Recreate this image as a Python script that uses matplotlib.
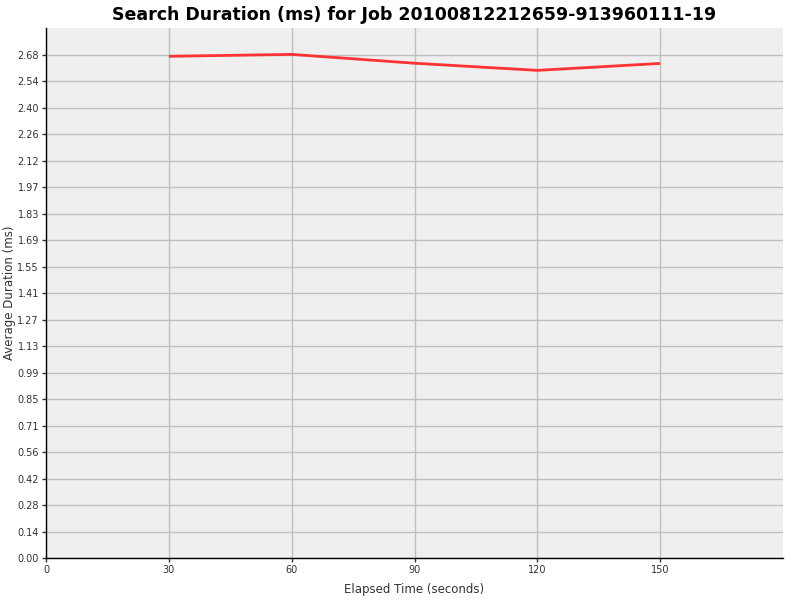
import numpy as np
import matplotlib
matplotlib.use("Agg")
import matplotlib.pyplot as plt

# Data
elapsed = [30, 60, 90, 120, 150]
avg_duration = [2.673, 2.683, 2.636, 2.598, 2.635]
x_ticks = [0, 30, 60, 90, 120, 150]
y_step = 0.14105
y_ticks = [k * y_step for k in range(20)]

fig = plt.figure(figsize=(8, 6), dpi=100)
ax = fig.add_axes([46 / 800, 1 - 558 / 600, (783 - 46) / 800, (558 - 28) / 600])
ax.set_facecolor("#efefef")

ax.plot(elapsed, avg_duration, color="#ff3333", linewidth=2, solid_capstyle="butt")

ax.set_xlim(0, 180)
ax.set_ylim(0, 2.8237)
ax.set_xticks(x_ticks)
ax.set_yticks(y_ticks)
ax.set_yticklabels(["%.2f" % v for v in y_ticks])
ax.grid(True, color="#c0c0c0", linewidth=1)
ax.set_axisbelow(True)

for s in ["top", "right"]:
    ax.spines[s].set_visible(False)
for s in ["left", "bottom"]:
    ax.spines[s].set_color("#000000")
    ax.spines[s].set_linewidth(1)
ax.tick_params(axis="both", labelsize=7, direction="out", length=3, width=1,
               colors="#333333", pad=2)

ax.set_xlabel("Elapsed Time (seconds)", fontsize=8.5, color="#333333")
ax.set_ylabel("Average Duration (ms)", fontsize=8.5, color="#333333")
ax.xaxis.set_label_coords(0.5, -0.048)
ax.yaxis.set_label_coords(-0.041, 0.5)
ax.set_title("Search Duration (ms) for Job 20100812212659-913960111-19",
             fontsize=12.5, fontweight="bold", pad=6)

fig.savefig("out.png", dpi=100)
